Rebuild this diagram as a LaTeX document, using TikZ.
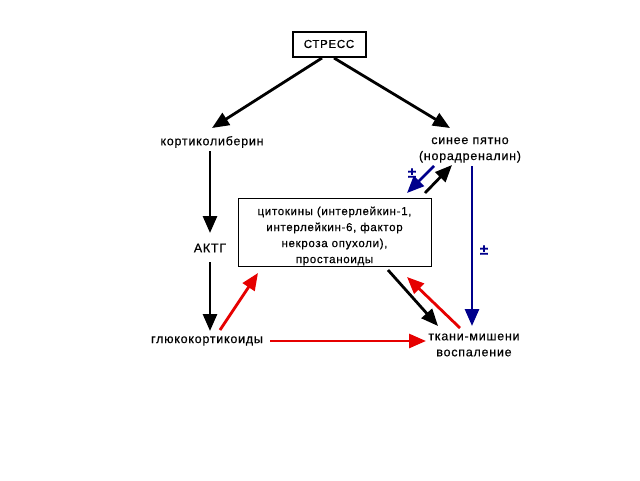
\documentclass[tikz,border=0pt]{standalone}
\usepackage{fontspec}
\setmainfont{Liberation Sans}[LetterSpace=6, FakeBold=0.4]
\usetikzlibrary{arrows.meta}
\definecolor{navyb}{RGB}{0,0,140}
\definecolor{redl}{RGB}{230,0,0}
\tikzset{
  lbl/.style={font=\fontsize{12.5}{16}\selectfont, align=center, inner sep=1pt},
  boxt/.style={font=\fontsize{11.5}{16}\selectfont, align=center, inner sep=1pt},
  pm/.style={font=\fontsize{15}{15}\selectfont\bfseries, text=navyb, inner sep=0pt},
  arr/.style={line width=2.8pt, -{Triangle[length=17pt,width=14pt]}},
  blk/.style={arr, black},
  rd/.style={arr, redl},
  bl/.style={arr, navyb},
}
\begin{document}
\begin{tikzpicture}[x=1pt,y=-1pt]
\useasboundingbox (0,0) rectangle (640,480);
\node[draw, line width=2pt, minimum width=73pt, minimum height=25pt, font=\fontsize{11.5}{14}\selectfont, inner sep=1pt] (stress) at (329,44) {СТРЕСС};
\node[lbl] (kort) at (212,142) {кортиколиберин};
\node[lbl] (sin) at (470,150) {синее пятно\\(норадреналин)};
\node[lbl] (aktg) at (210,248) {АКТГ};
\node[lbl] (gluk) at (207,341) {глюкокортикоиды};
\node[lbl] (tk) at (474,345) {ткани-мишени\\воспаление};
\node[draw, line width=0.8pt, minimum width=193pt, minimum height=68pt] (cyt) at (334.5,232) {};
\node[boxt] (cytt) at (334.5,236) {цитокины (интерлейкин-1,\\интерлейкин-6, фактор\\некроза опухоли),\\простаноиды};
\coordinate (s1) at (322,58);
\coordinate (s2) at (334,58);
\draw[blk] (s1) -- (212,128);
\draw[blk] (s2) -- (450,128);
\draw[blk] (210,151) -- (210,233);
\draw[blk] (210,262) -- (210,331);
\draw[rd] (220,330) -- (258,273);
\draw[rd] (270,341) -- (426,341);
\draw[blk] (388,270) -- (438,326);
\draw[rd] (460,328) -- (407,277);
\draw[bl] (472,166) -- (472,326);
\node[pm] (pm1) at (484,250) {±};
\draw[bl] (434,166) -- (407,193);
\draw[blk] (425,193) -- (452,165);
\node[pm] (pm2) at (412,173) {±};
\end{tikzpicture}
\end{document}
